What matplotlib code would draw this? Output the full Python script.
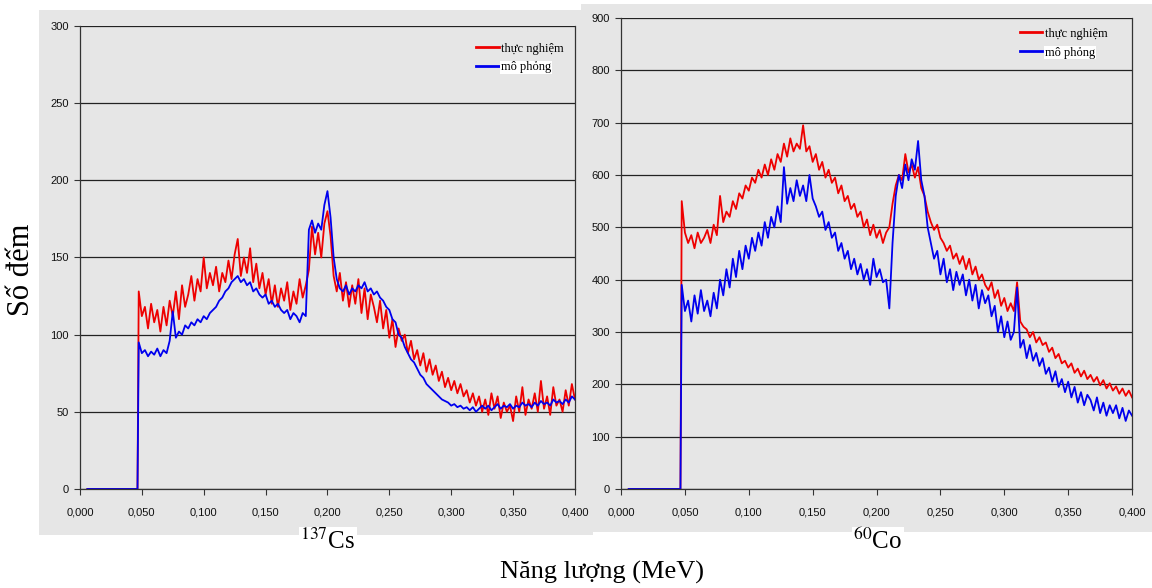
"""
   two gamma spectra (137Cs and 60Co): experiment vs simulation
"""
from matplotlib import pyplot as plt
plt.switch_backend('Agg') #batch
import numpy as np
from matplotlib.patches import Rectangle
from matplotlib.ticker import FuncFormatter, MultipleLocator

plt.rcParams['mathtext.fontset'] = 'stix'

#
# channel energies (MeV): flat zero part, then the measured part
#
pre_energy = [0.006, 0.0465]
pre_counts = [0, 0]
energy_start = 0.0475
energy_step = 0.0025

#
# 137Cs, counts (8 channels per row)
#
cs_exp = [128, 112, 118, 104, 120, 108, 116, 102,
          118, 106, 122, 112, 128, 110, 132, 118,
          126, 138, 122, 136, 128, 150, 130, 140,
          132, 144, 128, 140, 134, 148, 136, 152,
          162, 138, 150, 140, 156, 134, 146, 130,
          140, 126, 136, 120, 132, 118, 130, 122,
          134, 116, 128, 120, 136, 124, 132, 142,
          170, 152, 166, 150, 172, 180, 164, 138,
          128, 140, 122, 134, 118, 132, 120, 136,
          114, 130, 110, 126, 118, 108, 122, 104,
          116, 98, 110, 92, 104, 96, 100, 88,
          96, 84, 90, 80, 88, 76, 84, 74,
          80, 70, 76, 66, 72, 64, 70, 62,
          68, 60, 64, 56, 62, 54, 60, 50,
          58, 48, 62, 52, 60, 46, 56, 50,
          54, 44, 60, 50, 66, 48, 58, 52,
          62, 50, 70, 52, 60, 48, 66, 54,
          58, 50, 64, 54, 68, 58]

cs_sim = [95, 88, 90, 86, 89, 87, 91, 86,
          90, 88, 96, 115, 98, 102, 100, 106,
          104, 108, 106, 110, 108, 112, 110, 114,
          116, 118, 122, 124, 128, 130, 134, 136,
          138, 134, 136, 132, 134, 128, 130, 126,
          124, 126, 120, 122, 118, 120, 116, 114,
          116, 110, 114, 112, 108, 114, 112, 168,
          174, 166, 172, 168, 184, 193, 176, 150,
          136, 130, 128, 132, 126, 130, 128, 132,
          130, 134, 128, 130, 126, 128, 124, 122,
          118, 116, 110, 108, 100, 98, 92, 88,
          84, 82, 78, 74, 72, 68, 66, 64,
          62, 60, 58, 57, 56, 54, 55, 53,
          54, 52, 53, 51, 53, 50, 52, 54,
          52, 54, 51, 53, 55, 52, 54, 53,
          55, 52, 54, 53, 56, 54, 55, 53,
          56, 54, 57, 55, 56, 54, 58, 56,
          57, 55, 58, 56, 60, 58]

#
# 60Co
#
co_exp = [550, 490, 470, 485, 460, 490, 470, 480,
          495, 470, 505, 485, 560, 510, 530, 520,
          550, 535, 565, 555, 580, 570, 595, 585,
          610, 595, 620, 600, 630, 610, 640, 625,
          660, 635, 670, 645, 660, 650, 695, 645,
          655, 625, 640, 610, 625, 595, 610, 585,
          595, 565, 580, 550, 560, 535, 545, 520,
          530, 500, 515, 485, 505, 480, 495, 470,
          490, 500, 545, 580, 600, 590, 640, 605,
          620, 595, 615, 575, 560, 530, 510, 495,
          505, 480, 470, 455, 465, 440, 450, 430,
          445, 420, 440, 410, 425, 400, 410, 390,
          380, 395, 365, 380, 350, 365, 340, 355,
          340, 395, 320, 310, 305, 290, 300, 280,
          290, 275, 280, 262, 270, 250, 258, 240,
          245, 232, 240, 222, 230, 215, 226, 210,
          218, 205, 214, 198, 208, 192, 202, 188,
          196, 182, 192, 178, 188, 175]

co_sim = [390, 340, 360, 320, 370, 335, 380, 340,
          360, 330, 375, 345, 400, 370, 420, 385,
          440, 405, 455, 420, 465, 440, 480, 455,
          490, 465, 510, 480, 520, 500, 540, 510,
          615, 545, 575, 550, 590, 560, 580, 550,
          600, 555, 540, 520, 530, 495, 510, 480,
          490, 455, 470, 440, 455, 420, 440, 410,
          430, 400, 420, 390, 440, 405, 420, 395,
          400, 345, 470, 560, 600, 575, 620, 590,
          630, 610, 665, 590, 560, 500, 470, 440,
          455, 410, 440, 395, 420, 380, 415, 390,
          410, 370, 400, 360, 390, 345, 380, 355,
          370, 330, 350, 300, 330, 290, 320, 285,
          300, 385, 270, 285, 250, 275, 245, 260,
          235, 250, 220, 232, 205, 225, 195, 210,
          185, 205, 175, 195, 165, 185, 160, 180,
          170, 150, 175, 145, 165, 140, 160, 145,
          160, 135, 155, 130, 150, 140]

legend_labels = ['thực nghiệm', 'mô phỏng']
serif = ['Liberation Serif', 'DejaVu Serif']
gray = '#e6e6e6'


def full_series(counts):
    """
    put the flat zero part in front of the measured channels
    """
    energy = energy_start + energy_step*np.arange(len(counts))
    x = np.concatenate([pre_energy, energy])
    y = np.concatenate([pre_counts, counts])
    return x, y


def make_panel(fig, rect, exp, sim, ymax, ystep, leg_anchor):
    ax = fig.add_axes(rect)
    ax.set_facecolor(gray)
    x, y = full_series(exp)
    ax.plot(x, y, color='#ee0000', lw=1.3, label=legend_labels[0])
    x, y = full_series(sim)
    ax.plot(x, y, color='#0000ee', lw=1.3, label=legend_labels[1])
    ax.set_xlim(0, 0.4)
    ax.set_ylim(0, ymax)
    ax.xaxis.set_major_locator(MultipleLocator(0.05))
    ax.yaxis.set_major_locator(MultipleLocator(ystep))
    ax.xaxis.set_major_formatter(FuncFormatter(lambda v, p: ('%.3f' % v).replace('.', ',')))
    ax.yaxis.set_major_formatter(FuncFormatter(lambda v, p: '%d' % v))
    #
    # black horizontal grid, no top frame line
    #
    ax.grid(axis='y', color='#222222', lw=0.9)
    ax.set_axisbelow(True)
    ax.spines['top'].set_visible(False)
    for side in ['left', 'bottom', 'right']:
        ax.spines[side].set_color('#333333')
        ax.spines[side].set_linewidth(0.9)
    ax.tick_params(axis='both', direction='out', length=4, width=0.8,
                   color='#333333', labelsize=8, labelcolor='#111111', pad=4)
    ax.tick_params(axis='x', pad=9)
    for lab in ax.get_xticklabels() + ax.get_yticklabels():
        lab.set_family('Liberation Sans')
    leg = ax.legend(loc='upper left', bbox_to_anchor=leg_anchor, frameon=False,
                    handlelength=1.8, handletextpad=0.2, labelspacing=0.55,
                    borderaxespad=0, prop=dict(family=serif, size=9))
    for line in leg.get_lines():
        line.set_linewidth(2.0)
    leg.get_texts()[1].set_bbox(dict(facecolor='white', edgecolor='none', pad=0.5))
    return ax


if __name__ == "__main__":
    fig = plt.figure(figsize=(11.52, 5.88), dpi=100)
    #
    # gray chart areas behind both panels (right one sits on top)
    #
    fig.patches.append(Rectangle((0.0339, 0.0901), 0.481, 0.893, transform=fig.transFigure,
                                 facecolor=gray, edgecolor='none', zorder=-2))
    fig.patches.append(Rectangle((0.5043, 0.0952), 0.4957, 0.898, transform=fig.transFigure,
                                 facecolor=gray, edgecolor='none', zorder=-1))

    ax1 = make_panel(fig, [0.0694, 0.1684, 0.4297, 0.7874], cs_exp, cs_sim, 300, 50, (0.79, 0.975))
    ax2 = make_panel(fig, [0.5391, 0.1684, 0.4436, 0.8010], co_exp, co_sim, 900, 100, (0.77, 0.99))

    box = dict(facecolor='white', edgecolor='none', pad=1)
    fig.text(0.2847, 0.080, '$^{137}$Cs', ha='center', va='center', family=serif,
             fontsize=18, bbox=box)
    fig.text(0.762, 0.080, '$^{60}$Co', ha='center', va='center', family=serif,
             fontsize=18, bbox=box)
    fig.text(0.523, 0.027, 'Năng lượng (MeV)', ha='center', va='center', family=serif,
             fontsize=19)
    fig.text(0.019, 0.541, 'Số đếm', ha='center', va='center', rotation=90,
             family=serif, fontsize=22)

    fig.savefig('out.png', dpi=100, facecolor='white')
